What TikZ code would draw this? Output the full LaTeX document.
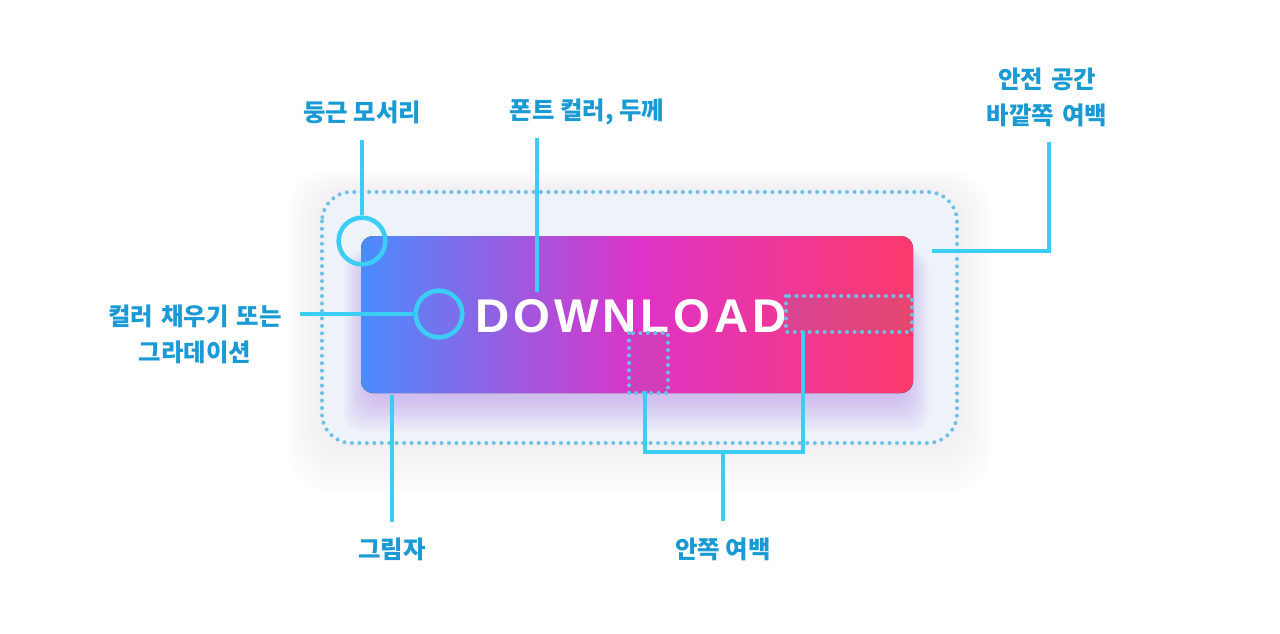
\documentclass[tikz,border=0pt]{standalone}
\usepackage{fontspec}
\newfontfamily\kr{Noto Sans CJK KR}
\newfontfamily\btnfont{Liberation Sans}[LetterSpace=8]
\definecolor{lblc}{HTML}{1A9AD4}
\definecolor{linec}{HTML}{3CCDF4}
\definecolor{dotc}{HTML}{6CC2E6}
\definecolor{glowc}{HTML}{E2C8F0}
\definecolor{boxfill}{HTML}{EEF5FD}
\definecolor{shadc}{HTML}{A46AE6}
\definecolor{btnL}{HTML}{4A8CFD}
\definecolor{btnM}{HTML}{DD33C8}
\definecolor{btnR}{HTML}{FD3A6C}
\tikzset{
  lbl/.style={font=\kr\bfseries\fontsize{18.3}{22}\selectfont, text=lblc, inner sep=0pt, align=center},
  conn/.style={draw=linec, line width=3.2pt},
  ring/.style={circle, draw=linec, line width=3.4pt, minimum size=35pt, inner sep=0pt},
  dotbox/.style={draw=dotc, line width=3pt, dash pattern=on 0pt off 5.6pt, line cap=round},
}
\begin{document}
\begin{tikzpicture}[x=0.75pt,y=-0.75pt]
\useasboundingbox (0,0) rectangle (1280,633);
\fill[white] (0,0) rectangle (1280,633);
% outer glow
\foreach \i in {1,...,14}{
  \fill[glowc, opacity=0.02, rounded corners=30pt] (322-2.5*\i,192-1.5*\i) rectangle (957+2.5*\i,443+3.5*\i);
}
% safe area fill
\fill[boxfill, opacity=0.8, rounded corners=22pt] (322,192) rectangle (957,443);
% button shadow
\foreach \i in {1,...,12}{
  \fill[shadc, opacity=0.035, rounded corners=14pt] (368-2*\i,262-\i) rectangle (905+2*\i,396+3*\i);
}
% button
\fill[rounded corners=9pt, left color=btnL, right color=btnR, middle color=btnM] (361,236) rectangle (913,393);
\node[anchor=base, text=white, inner sep=0pt, font=\btnfont\bfseries\fontsize{35.5}{40}\selectfont] (dl) at (631,332) {DOWNLOAD};
% padding boxes
\fill[gray, opacity=0.18] (786,296) rectangle (912,332);
\fill[gray, opacity=0.12] (629,333) rectangle (668,393);
\draw[dotbox] (786,296) rectangle (912,332);
\draw[dotbox] (629,333) rectangle (668,393);
% safe area border
\draw[dotbox, rounded corners=22pt] (322,192) rectangle (957,443);

% labels
\node[lbl] (l1) at (362,112) {둥근 모서리};
\node[lbl] (l2) at (587,112) {폰트 컬러, 두께};
\node[lbl, text width=200pt] (l3) at (1047,97) {안전 공간\\[5pt]바깥쪽 여백};
\node[lbl, text width=200pt] (l4) at (195,334) {컬러 채우기 또는\\[5pt]그라데이션};
\node[lbl] (l5) at (392,549) {그림자};
\node[lbl] (l6) at (723,549) {안쪽 여백};

% rings
\node[ring] (r1) at (362,241) {};
\node[ring] (r2) at (439,314) {};

% connector anchors
\coordinate (a1) at (362,140);
\coordinate (a2) at (537,138);
\coordinate (b2) at (537,292);
\coordinate (a3) at (1049,142);
\coordinate (b3) at (1049,251);
\coordinate (c3) at (932,251);
\coordinate (a4) at (300,314);
\coordinate (a5) at (392,395);
\coordinate (b5) at (392,522);
\coordinate (p1) at (645,391);
\coordinate (p2) at (645,452);
\coordinate (p3) at (803,452);
\coordinate (p4) at (803,331);
\coordinate (pm) at (723,452);
\coordinate (pb) at (723,521);

\draw[conn] (a1) -- (r1.north);
\draw[conn] (a2) -- (b2);
\draw[conn] (a3) -- (b3) -- (c3);
\draw[conn] (a4) -- (r2.west);
\draw[conn] (a5) -- (b5);
\draw[conn] (p1) -- (p2) -- (p3) -- (p4);
\draw[conn] (pm) -- (pb);
\end{tikzpicture}
\end{document}
